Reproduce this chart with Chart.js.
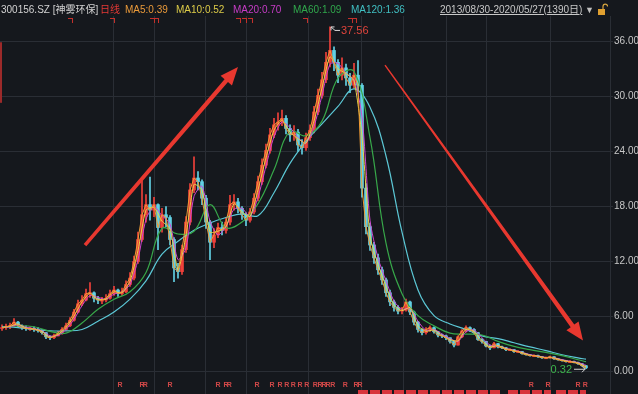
<!DOCTYPE html>
<html><head><meta charset="utf-8">
<script src="https://cdn.jsdelivr.net/npm/chart.js@4.4.1/dist/chart.umd.min.js"></script>
<style>
html,body{margin:0;padding:0;background:#15181d;}
#wrap{position:relative;width:638px;height:394px;background:#15181d;overflow:hidden;font-family:"Liberation Sans","Noto Sans CJK SC",sans-serif;}
canvas{position:absolute;left:0;top:0;}
#hdr{position:absolute;left:0;top:3px;width:638px;height:14px;font-size:10px;line-height:14px;white-space:nowrap;}
#hdr span{position:absolute;top:0;}
</style></head><body>
<div id="wrap">
<canvas id="c" width="638" height="394"></canvas>
<div id="hdr">
<span style="left:1px;color:#d2d2d2">300156.SZ [神雾环保]</span>
<span style="left:100px;color:#e53935">日线</span>
<span style="left:125px;color:#ea9a3a">MA5:0.39</span>
<span style="left:176px;color:#dccb48">MA10:0.52</span>
<span style="left:233px;color:#c63cc6">MA20:0.70</span>
<span style="left:293px;color:#30a84c">MA60:1.09</span>
<span style="left:351px;color:#40bfc2">MA120:1.36</span>
<span style="left:440px;color:#c8c8c8;text-decoration:underline">2013/08/30-2020/05/27(1390日)</span>
<span style="left:585px;color:#c0c0c0;font-size:9px">▼</span>
<svg style="position:absolute;left:597px;top:0px" width="11" height="14"><path d="M6 6 V3.5 a2.3 2.3 0 0 1 4.6 0" stroke="#d9a640" fill="none" stroke-width="1.2"/><rect x="1" y="6" width="7" height="6" fill="#e0a030"/></svg>
</div>
</div>
<script>
// ---- data ----
const firstOpen = 4.7;
const closes = [4.8,4.9,5.0,5.4,5.0,4.8,4.7,4.7,4.6,4.5,
 4.25,3.8,3.7,3.9,4.2,4.6,5.0,5.6,6.5,7.4,
 7.8,8.5,8.6,8.0,7.8,7.8,8.0,8.5,8.9,8.5,
 8.7,9.5,10.2,12.0,14.4,17.1,18.2,17.6,18.2,15.7,
 17.1,16.8,14.4,11.3,10.9,13.3,16.3,19.8,21.1,20.7,
 18.9,16.3,14.1,14.9,15.7,15.4,16.3,18.2,18.5,17.8,
 17.1,16.5,17.4,18.9,20.7,22.5,24.1,25.8,26.9,27.2,
 27.6,26.5,25.8,26.1,24.7,24.4,25.5,26.3,28.3,30.1,
 31.8,33.7,35.0,33.7,32.3,33.1,32.0,31.2,32.3,31.2,
 20.0,15.8,13.8,12.4,11.1,10.0,8.6,7.6,7.0,6.6,
 6.7,7.6,6.5,5.4,4.6,4.25,4.6,4.8,4.35,4.0,
 3.9,3.7,3.3,2.9,3.8,4.45,4.8,4.6,4.25,3.5,
 3.3,2.8,2.6,3.05,2.7,2.6,2.4,2.4,2.2,2.2,
 1.96,1.85,1.75,1.75,1.63,1.52,1.52,1.63,1.41,1.3,
 1.2,1.1,1.1,1.0,0.87,0.65,0.42];
const highs = [5.1,5.2,5.3,5.8,5.5,5.1,5.0,4.9,4.9,4.8,
 4.6,4.3,3.9,4.1,4.4,4.8,5.3,5.9,6.8,7.8,
 8.3,9.0,9.7,8.7,8.2,8.1,8.4,8.9,9.3,9.0,
 9.1,9.9,10.8,12.6,15.2,21.0,19.3,21.2,19.0,18.3,
 17.8,18.0,17.0,14.6,11.8,13.8,16.9,20.5,23.4,21.8,
 20.9,19.2,16.5,15.6,16.2,16.3,16.8,19.2,19.3,18.9,
 18.0,17.3,17.8,19.4,21.3,23.2,24.8,26.5,27.6,28.2,
 28.5,27.9,26.9,26.8,26.4,25.3,26.0,26.9,28.9,30.8,
 32.6,34.8,37.56,35.4,34.0,34.2,33.5,32.5,33.6,33.9,
 31.4,20.5,16.2,14.1,12.8,11.4,10.2,8.9,7.8,7.2,
 7.0,7.9,7.7,6.6,5.5,4.7,4.8,5.0,4.9,4.4,
 4.1,4.0,3.7,3.3,3.9,4.6,5.0,4.9,4.7,4.3,
 3.6,3.3,2.9,3.2,3.1,2.8,2.65,2.5,2.45,2.3,
 2.2,2.0,1.9,1.85,1.8,1.65,1.6,1.7,1.65,1.45,
 1.35,1.25,1.2,1.15,1.05,0.9,0.68];
const lows = [4.5,4.6,4.7,4.9,4.8,4.6,4.5,4.5,4.4,4.3,
 4.1,3.6,3.5,3.6,3.9,4.1,4.5,4.9,5.5,6.4,
 7.2,7.7,8.1,7.6,7.4,7.4,7.6,7.9,8.3,8.2,
 8.3,8.6,9.3,10.0,11.8,14.2,16.3,16.5,16.9,13.3,
 15.2,15.8,13.8,9.8,10.2,10.6,13.0,16.0,19.5,19.8,
 18.2,15.6,12.2,13.5,14.6,14.9,15.1,16.0,17.6,17.3,
 16.6,15.9,16.3,17.2,18.6,20.4,22.2,23.8,25.5,26.3,
 26.8,25.9,25.1,25.2,24.0,23.7,24.1,25.2,26.0,28.0,
 29.8,31.5,33.2,32.8,31.5,31.8,31.2,30.4,30.9,30.6,
 19.0,15.0,13.2,11.8,10.6,9.5,8.2,7.2,6.6,6.3,
 6.3,6.6,6.2,5.1,4.3,4.0,4.1,4.4,4.2,3.8,
 3.7,3.5,3.1,2.7,2.9,3.7,4.3,4.4,4.1,3.4,
 3.1,2.7,2.4,2.6,2.6,2.5,2.3,2.3,2.1,2.1,
 1.9,1.8,1.7,1.65,1.55,1.45,1.45,1.5,1.35,1.25,
 1.15,1.05,1.0,0.95,0.8,0.6,0.32];
// MA10 / MA20 read at every 2nd bar
const ma10 = [4.8,4.95,5.2,4.75,4.65,4.4,3.75,4.05,4.8,6.05,
 7.6,8.55,7.9,7.9,8.7,8.6,9.85,13.2,17.6,17.9,
 16.4,15.6,11.1,14.8,20.4,19.8,15.2,15.3,15.8,18.3,
 17.4,16.9,19.8,23.3,26.3,27.4,26.1,25.4,24.9,27.3,
 30.9,34.3,33.0,32.5,31.7,25.6,14.8,11.7,9.3,7.3,
 6.65,7.0,5.0,4.4,4.55,3.95,3.5,3.35,4.6,4.4,
 3.4,2.7,2.85,2.5,2.3,2.08,1.8,1.69,1.52,1.5,
 1.25,1.1,0.95,0.55];
const ma20 = [4.8,4.9,5.1,4.85,4.7,4.45,3.9,3.95,4.6,5.7,
 7.2,8.3,8.1,7.9,8.45,8.7,9.5,12.2,16.6,18.0,
 17.0,16.1,12.2,13.5,19.1,20.2,16.4,14.9,15.8,17.7,
 17.8,16.9,19.0,22.4,25.6,27.2,26.6,25.5,24.9,26.7,
 30.1,33.5,33.6,32.5,31.8,27.8,16.5,12.4,9.9,7.7,
 6.8,6.9,5.5,4.5,4.6,4.1,3.6,3.3,4.35,4.55,
 3.7,2.9,2.8,2.55,2.35,2.12,1.86,1.71,1.56,1.52,
 1.32,1.14,1.0,0.7];
// MA60 / MA120 read at every 4th bar (+ last bar)
const ma60 = [4.8,5.0,4.9,4.4,4.2,5.3,6.8,7.9,8.7,10.8,
 15.6,15.0,15.3,18.2,15.7,16.3,18.3,22.0,26.2,25.7,
 27.3,32.0,32.7,25.5,14.0,8.5,6.1,5.0,4.2,4.1,
 4.0,3.3,2.75,2.4,2.1,1.75,1.3,1.09];
const ma120 = [4.9,4.8,4.6,4.45,4.45,4.6,5.5,6.5,7.9,9.9,
 12.8,14.2,15.4,16.2,16.8,17.2,17.0,19.5,22.7,25.1,
 27.0,28.9,30.8,28.8,23.5,15.2,8.9,6.1,5.2,4.6,
 3.9,3.6,3.15,2.7,2.3,1.85,1.5,1.36];
const yTicks = [0,6,12,18,24,30,36];
const xGridAt = [27.75,38,50.75,61,76.5,89.75,100.25,111,121,137];
const peak = {bar:82, value:37.56, text:'37.56'};
const bottom = {bar:146, value:0.32, text:'0.32'};
const topMarks = [17,27.5,37.5,38.5,59,60.5,62,75.75,87,88];
const rMarks = [29.5,35,35.8,42,54,56,56.8,63.75,67.5,69.5,71.2,72.8,74.5,76.2,78.3,79.5,80.5,81.5,82.7,85.8,88.5,89.5,132.3,136.5,144,145.8];
const noteBars = [[89,124.75],[126.5,137.25],[138.5,146]];
const arrows = [
  {from:[20.75,13.8], to:[59.0,33.2], w1:3.5, w2:4.5},
  {from:[95.75,33.4], to:[145.25,3.4], w1:1.4, w2:4.4}
];

// ---- build ----
const idx2 = []; for (let i=0;i<closes.length;i+=2) idx2.push(i);
const idx4 = []; for (let i=0;i<=144;i+=4) idx4.push(i); idx4.push(146);
const opens = closes.map((c,i)=> i===0 ? firstOpen : closes[i-1]);
const UP='#f0403a', DOWN='#62d0e4';
const col = i => closes[i] >= opens[i] ? UP : DOWN;
const GRID = '#2a2e35';

function arrow(ctx,x1,y1,x2,y2,w1,w2,hl,hw,color){
  const dx=x2-x1, dy=y2-y1, L=Math.hypot(dx,dy), ux=dx/L, uy=dy/L, nx=-uy, ny=ux;
  const bx=x2-ux*hl, by=y2-uy*hl;
  ctx.fillStyle=color; ctx.beginPath();
  ctx.moveTo(x1+nx*w1/2,y1+ny*w1/2);
  ctx.lineTo(bx+nx*w2/2,by+ny*w2/2);
  ctx.lineTo(bx+nx*hw/2,by+ny*hw/2);
  ctx.lineTo(x2,y2);
  ctx.lineTo(bx-nx*hw/2,by-ny*hw/2);
  ctx.lineTo(bx-nx*w2/2,by-ny*w2/2);
  ctx.lineTo(x1-nx*w1/2,y1-ny*w1/2);
  ctx.closePath(); ctx.fill();
}

const deco = {
  id:'deco',
  afterDatasetsDraw(chart){
    const {ctx, scales:{x,y}, chartArea:ca} = chart;
    ctx.save();
    ctx.fillStyle='#9c2a2a';
    ctx.fillRect(ca.left, y.getPixelForValue(36)+1, 2, y.getPixelForValue(29.4)-y.getPixelForValue(36));
    ctx.fillStyle='#c4302b';
    topMarks.forEach(b=>{const px=Math.round(x.getPixelForValue(b)); ctx.fillRect(px-2,ca.top+2,5,1); ctx.fillRect(px+2,ca.top+2,1,5);});
    ctx.font='bold 7px "Liberation Sans"'; ctx.textAlign='center'; ctx.textBaseline='middle'; ctx.fillStyle='#d04848';
    rMarks.forEach(b=>ctx.fillText('R', x.getPixelForValue(b), 385));
    ctx.strokeStyle='#d8343c'; ctx.lineWidth=4; ctx.setLineDash([10,2]);
    noteBars.forEach(s=>{ctx.beginPath(); ctx.moveTo(x.getPixelForValue(s[0]),392); ctx.lineTo(x.getPixelForValue(s[1]),392); ctx.stroke();});
    ctx.setLineDash([]);
    arrows.forEach(a=>arrow(ctx, x.getPixelForValue(a.from[0]), y.getPixelForValue(a.from[1]), x.getPixelForValue(a.to[0]), y.getPixelForValue(a.to[1]), a.w1, a.w2, 18, 15, '#e8382f'));
    let px=x.getPixelForValue(peak.bar), py=y.getPixelForValue(peak.value);
    ctx.strokeStyle='#d8d8d8'; ctx.lineWidth=1;
    ctx.beginPath(); ctx.moveTo(px+10,py+3.5); ctx.lineTo(px+5,py+3.5); ctx.lineTo(px+1,py); ctx.stroke();
    ctx.beginPath(); ctx.moveTo(px+1,py); ctx.lineTo(px+4.5,py); ctx.moveTo(px+1,py); ctx.lineTo(px+1,py+3.5); ctx.stroke();
    ctx.font='11px "Liberation Sans"'; ctx.textAlign='left'; ctx.fillStyle='#e0443c';
    ctx.fillText(peak.text, px+11, py+4);
    px=x.getPixelForValue(bottom.bar); py=y.getPixelForValue(bottom.value);
    ctx.strokeStyle='#d8d8d8';
    ctx.beginPath(); ctx.moveTo(px-12,py+0.5); ctx.lineTo(px-1,py+0.5); ctx.moveTo(px-4,py-2.5); ctx.lineTo(px-1,py+0.5); ctx.lineTo(px-4,py+3.5); ctx.stroke();
    ctx.textAlign='right'; ctx.fillStyle='#3cb44b';
    ctx.fillText(bottom.text, px-14, py+1);
    ctx.restore();
  }
};

const line = (label, xs, vals, color, w, t, order) => ({
  type:'line', label, data: xs.map((xv,k)=>({x:xv, y:vals[k]})),
  borderColor:color, borderWidth:w, pointRadius:0, tension:t, order, fill:false
});

new Chart(document.getElementById('c'), {
  type:'bar',
  data:{ datasets:[
    line('MA5', closes.map((c,i)=>i), closes, '#f09a34', 1, 0, 1),
    line('MA10', idx2, ma10, '#e6d44a', 1, 0.2, 2),
    line('MA20', idx2, ma20, '#d048d0', 1, 0.25, 3),
    line('MA60', idx4, ma60, '#38a84a', 1.2, 0.4, 4),
    line('MA120', idx4, ma120, '#5cc8d6', 1.2, 0.4, 5),
    {type:'bar', label:'body', data: closes.map((c,i)=>({x:i, y:[opens[i], c]})),
     backgroundColor: ctx=>col(ctx.dataIndex), barThickness:3, grouped:false, minBarLength:1, order:6},
    {type:'bar', label:'wick', data: closes.map((c,i)=>({x:i, y:[lows[i], highs[i]]})),
     backgroundColor: ctx=>col(ctx.dataIndex), barThickness:1, grouped:false, order:7}
  ]},
  options:{
    responsive:false, animation:false, devicePixelRatio:1,
    layout:{padding:{top:16,left:0,right:0,bottom:0}},
    plugins:{legend:{display:false}, tooltip:{enabled:false}},
    scales:{
      x:{type:'linear', min:-0.5, max:152, offset:false,
         grid:{color:GRID, drawTicks:false, offset:false}, border:{display:false},
         ticks:{display:false},
         afterBuildTicks(s){ s.ticks = xGridAt.map(v=>({value:v})); },
         afterFit(s){ s.height = 0; s.paddingLeft = 0; s.paddingRight = 0; }},
      y:{position:'right', min:-2.43, max:38.75,
         grid:{color:GRID, drawTicks:true, tickLength:3}, border:{display:true, color:GRID},
         ticks:{color:'#c8c8c8', font:{family:'Liberation Sans', size:10}, padding:1, callback:v=>v.toFixed(2)},
         afterBuildTicks(s){ s.ticks = yTicks.map(v=>({value:v})); },
         afterFit(s){ s.width = 28; s.paddingTop = 0; s.paddingBottom = 0; }}
    }
  },
  plugins:[deco]
});
</script>
</body></html>
